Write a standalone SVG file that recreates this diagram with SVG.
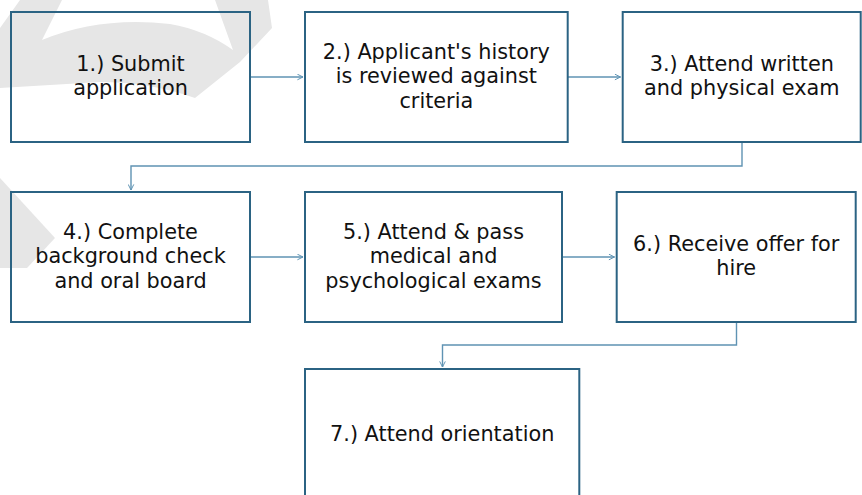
<svg xmlns="http://www.w3.org/2000/svg" width="862" height="495" viewBox="0 0 862 495">
<defs>
<style>
.bg{fill:#ffffff}
.wm{fill:#e6e6e6}
.box{fill:none;stroke:#2b6383;stroke-width:2}
.lbl{font-family:"DejaVu Sans","Open Sans",sans-serif;font-size:20.8px;fill:#111111;text-anchor:middle}
.conn{fill:none;stroke:#5f93b3;stroke-width:1.4}
</style>
<marker id="arr" viewBox="0 0 10 10" refX="9" refY="5" markerWidth="7" markerHeight="7" markerUnits="userSpaceOnUse" orient="auto">
<path d="M1,1 L9,5 L1,9" fill="none" stroke="#5f93b3" stroke-width="1.4"/>
</marker>
</defs>
<rect class="bg" x="0" y="0" width="862" height="495"/>
<g id="watermark">
<path class="wm" d="M0,28 L20,0 L62,0 L42,40 Q100,16 170,24 Q205,30 233,50 L215,0 L268,0 L272,28 L240,62 L195,98 Q150,82 100,82 L0,88 Z"/>
<path class="wm" d="M0,178 L55,238 L27,268 L0,268 Z"/>
</g>
<g id="connectors">
<path class="conn" d="M250,77 H303" marker-end="url(#arr)"/>
<path class="conn" d="M567.7,77 H620.5" marker-end="url(#arr)"/>
<path class="conn" d="M742,142 V166 H131 V190" marker-end="url(#arr)"/>
<path class="conn" d="M250,257 H303" marker-end="url(#arr)"/>
<path class="conn" d="M562,257 H614.5" marker-end="url(#arr)"/>
<path class="conn" d="M736.5,322 V345 H442.5 V367" marker-end="url(#arr)"/>
</g>
<g id="node1">
<rect class="box" x="11" y="12" width="239" height="130"/>
<text class="lbl" x="130.5" y="70.75">1.) Submit</text>
<text class="lbl" x="130.5" y="95.25">application</text>
</g>
<g id="node2">
<rect class="box" x="305" y="12" width="262.7" height="130"/>
<text class="lbl" x="436.3" y="58.5">2.) Applicant's history</text>
<text class="lbl" x="436.3" y="83">is reviewed against</text>
<text class="lbl" x="436.3" y="107.5">criteria</text>
</g>
<g id="node3">
<rect class="box" x="622.7" y="12" width="238" height="130"/>
<text class="lbl" x="741.8" y="70.75">3.) Attend written</text>
<text class="lbl" x="741.8" y="95.25">and physical exam</text>
</g>
<g id="node4">
<rect class="box" x="11" y="192" width="239" height="130"/>
<text class="lbl" x="130.5" y="238.5">4.) Complete</text>
<text class="lbl" x="130.5" y="263">background check</text>
<text class="lbl" x="130.5" y="287.5">and oral board</text>
</g>
<g id="node5">
<rect class="box" x="305" y="192" width="257" height="130"/>
<text class="lbl" x="433.5" y="238.5">5.) Attend &amp; pass</text>
<text class="lbl" x="433.5" y="263">medical and</text>
<text class="lbl" x="433.5" y="287.5">psychological exams</text>
</g>
<g id="node6">
<rect class="box" x="616.7" y="192" width="239" height="130"/>
<text class="lbl" x="736.2" y="250.75">6.) Receive offer for</text>
<text class="lbl" x="736.2" y="275.25">hire</text>
</g>
<g id="node7">
<rect class="box" x="305" y="369" width="274.3" height="130"/>
<text class="lbl" x="442.2" y="441">7.) Attend orientation</text>
</g>
</svg>
